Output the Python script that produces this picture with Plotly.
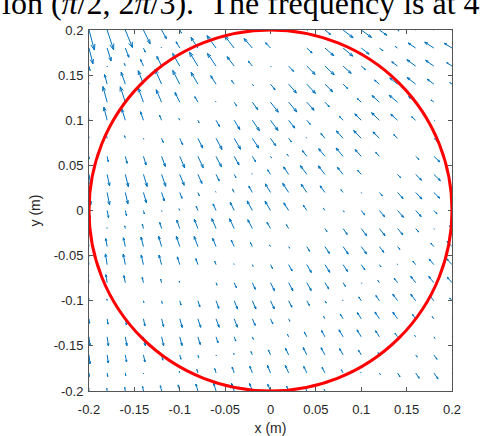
"""Quiver field inside a circle, MATLAB-style, rebuilt with Plotly."""

import math
import plotly.graph_objects as go

HEADER = "ion (<i>π</i>/2, 2<i>π</i>/3).  The frequency is at 4"

X_GRID = [-0.20, -0.18, -0.16, -0.14, -0.12, -0.10, -0.08, -0.06, -0.04, -0.02, 0.00,
          0.02, 0.04, 0.06, 0.08, 0.10, 0.12, 0.14, 0.16, 0.18, 0.20]
Y_GRID = [0.20, 0.18, 0.16, 0.14, 0.12, 0.10, 0.08, 0.06, 0.04, 0.02, 0.00,
          -0.02, -0.04, -0.06, -0.08, -0.10, -0.12, -0.14, -0.16, -0.18, -0.20]

# signed arrow amplitude per grid point (rows top -> bottom, cols left -> right);
# positive = pointing down-right, negative = pointing up-left
AMPLITUDE = [
    [23, 23, 21, 17, 11, 4, -4, -11, -16, -18, -15, -8, 1, 8, 14, 14, 10, 2, -6, -11, -12],
    [18, 15, 11, 5, -1, -8, -14, -17, -17, -14, -8, 0, 8, 13, 14, 11, 5, -3, -10, -12, -10],
    [5, 1, -3, -8, -12, -16, -18, -17, -13, -7, 1, 8, 13, 14, 12, 6, -1, -8, -12, -11, -7],
    [-9, -11, -14, -16, -18, -17, -15, -11, -5, 2, 8, 13, 14, 12, 7, 0, -7, -11, -12, -9, -3],
    [-17, -18, -18, -17, -15, -12, -7, -1, 5, 10, 14, 14, 12, 7, 0, -6, -11, -12, -10, -4, 2],
    [-16, -15, -13, -10, -6, -2, 3, 8, 12, 14, 14, 11, 6, 0, -6, -10, -12, -10, -6, 1, 6],
    [-8, -6, -3, 1, 5, 8, 12, 14, 14, 13, 10, 5, -1, -7, -11, -12, -10, -6, 0, 5, 9],
    [3, 6, 8, 10, 12, 14, 14, 13, 11, 7, 2, -3, -8, -11, -12, -10, -6, 0, 5, 9, 10],
    [12, 13, 14, 14, 14, 13, 11, 8, 4, -1, -6, -10, -12, -12, -10, -6, 0, 5, 9, 10, 9],
    [14, 14, 13, 12, 10, 7, 4, -1, -4, -8, -11, -12, -11, -9, -4, 1, 5, 9, 10, 9, 5],
    [9, 8, 6, 4, 1, -2, -5, -8, -10, -12, -12, -10, -7, -3, 2, 6, 9, 10, 9, 5, 1],
    [0, -1, -3, -5, -7, -10, -11, -12, -12, -11, -8, -5, 0, 4, 8, 10, 10, 9, 5, 1, -4],
    [-8, -9, -10, -11, -12, -12, -12, -10, -8, -5, -2, 2, 6, 9, 10, 10, 8, 4, 0, -5, -8],
    [-12, -12, -12, -11, -11, -9, -7, -4, -1, 2, 5, 8, 10, 10, 9, 7, 3, -1, -5, -8, -9],
    [-10, -9, -8, -6, -4, -2, 0, 3, 6, 8, 10, 10, 10, 8, 5, 1, -3, -6, -9, -9, -8],
    [-3, -2, 0, 2, 3, 5, 7, 9, 10, 10, 10, 8, 6, 3, -1, -5, -7, -9, -9, -7, -4],
    [5, 6, 7, 8, 9, 10, 10, 10, 10, 8, 6, 3, 0, -3, -6, -8, -9, -9, -6, -3, 1],
    [10, 10, 10, 10, 10, 10, 9, 7, 5, 3, 0, -3, -6, -8, -9, -9, -8, -5, -2, 2, 5],
    [10, 9, 8, 8, 6, 5, 3, 1, -2, -4, -6, -8, -9, -9, -8, -6, -3, 0, 3, 6, 8],
    [4, 4, 3, 1, 0, -2, -4, -5, -7, -8, -9, -9, -8, -7, -4, -1, 2, 5, 7, 8, 8],
    [-3, -3, -4, -5, -6, -7, -8, -9, -9, -9, -8, -6, -4, -2, 1, 4, 6, 8, 8, 7, 5],
]

# arrow direction, degrees below the horizontal
DIRECTION = [
    [75, 72, 68, 64, 61, 58, 55, 52, 50, 47, 45, 43, 41, 39, 38, 36, 35, 33, 32, 31, 30],
    [76, 73, 69, 66, 62, 60, 57, 54, 52, 49, 47, 45, 43, 41, 40, 38, 37, 35, 34, 33, 32],
    [77, 74, 70, 67, 64, 61, 59, 56, 53, 51, 49, 47, 45, 43, 42, 40, 38, 37, 36, 35, 33],
    [78, 75, 71, 69, 66, 63, 60, 58, 55, 53, 51, 49, 47, 45, 44, 42, 40, 39, 38, 37, 35],
    [79, 75, 72, 70, 67, 64, 61, 59, 57, 54, 52, 50, 48, 47, 45, 43, 42, 40, 39, 38, 37],
    [80, 76, 73, 71, 68, 65, 63, 61, 59, 56, 54, 52, 50, 49, 47, 45, 44, 42, 41, 40, 39],
    [80, 77, 74, 72, 69, 66, 64, 62, 60, 57, 55, 53, 52, 50, 48, 46, 45, 44, 42, 41, 40],
    [81, 78, 75, 73, 70, 67, 65, 63, 61, 59, 57, 55, 53, 51, 50, 48, 47, 45, 44, 43, 41],
    [81, 78, 76, 73, 71, 68, 66, 64, 62, 60, 58, 56, 54, 52, 51, 49, 48, 46, 45, 44, 42],
    [82, 79, 77, 74, 72, 69, 67, 65, 63, 61, 59, 57, 56, 54, 52, 51, 49, 48, 47, 45, 44],
    [82, 79, 77, 75, 72, 70, 68, 66, 64, 62, 60, 58, 57, 55, 53, 52, 50, 49, 48, 46, 45],
    [82, 80, 78, 76, 73, 71, 69, 67, 65, 63, 61, 59, 58, 56, 55, 53, 52, 50, 49, 48, 46],
    [82, 80, 78, 76, 74, 72, 70, 68, 66, 64, 62, 60, 59, 57, 56, 54, 53, 51, 50, 49, 47],
    [83, 81, 79, 77, 75, 73, 71, 69, 67, 65, 63, 61, 60, 58, 57, 55, 54, 52, 51, 50, 48],
    [83, 81, 79, 77, 75, 73, 71, 69, 67, 66, 64, 62, 61, 59, 58, 56, 55, 53, 52, 51, 49],
    [83, 81, 79, 78, 76, 74, 72, 70, 68, 67, 65, 63, 62, 60, 59, 57, 56, 54, 53, 52, 50],
    [83, 81, 79, 78, 76, 74, 72, 70, 69, 67, 65, 64, 62, 61, 59, 58, 57, 55, 54, 53, 51],
    [84, 82, 80, 78, 77, 75, 73, 71, 70, 68, 66, 65, 63, 62, 60, 59, 58, 56, 55, 54, 52],
    [84, 82, 80, 78, 77, 75, 73, 72, 70, 68, 67, 65, 64, 62, 61, 60, 58, 57, 56, 54, 53],
    [84, 82, 81, 79, 77, 76, 74, 73, 71, 69, 68, 66, 65, 63, 62, 61, 59, 58, 57, 55, 54],
    [84, 82, 81, 79, 77, 76, 74, 73, 71, 70, 68, 67, 65, 64, 62, 61, 60, 59, 57, 56, 55],
]

RADIUS = 0.2
TICKS = [-0.2, -0.15, -0.1, -0.05, 0, 0.05, 0.1, 0.15, 0.2]
TICK_LABELS = ["-0.2", "-0.15", "-0.1", "-0.05", "0", "0.05", "0.1", "0.15", "0.2"]

SCALE = 0.001       # data units per amplitude unit
HEAD = 0.3          # head length relative to arrow
HEAD_ANGLE = math.radians(20)
AXIS_GREY = "#555555"


def quiver_lines():
    xs, ys = [], []
    for j, y0 in enumerate(Y_GRID):
        for i, x0 in enumerate(X_GRID):
            a = AMPLITUDE[j][i]
            if a == 0:
                continue
            th = math.radians(DIRECTION[j][i])
            u = a * SCALE * math.cos(th)
            v = -a * SCALE * math.sin(th)
            x1, y1 = x0 + u, y0 + v
            bx, by = -u * HEAD, -v * HEAD
            barbs = []
            for s in (1, -1):
                c, sn = math.cos(s * HEAD_ANGLE), math.sin(s * HEAD_ANGLE)
                barbs.append((x1 + bx * c - by * sn, y1 + bx * sn + by * c))
            xs += [x0, x1, barbs[0][0], None, x1, barbs[1][0], None]
            ys += [y0, y1, barbs[0][1], None, y1, barbs[1][1], None]
    return xs, ys


xs, ys = quiver_lines()
fig = go.Figure()
fig.add_trace(go.Scatter(
    x=xs, y=ys, mode="lines", hoverinfo="skip",
    line=dict(color="#0072BD", width=1),
))
fig.add_shape(
    type="circle", xref="x", yref="y",
    x0=-RADIUS, x1=RADIUS, y0=-RADIUS, y1=RADIUS,
    line=dict(color="#FF0000", width=3),
)

axis_style = dict(
    range=[-0.2, 0.2], tickvals=TICKS, ticktext=TICK_LABELS,
    ticks="inside", ticklen=4, tickcolor=AXIS_GREY,
    showline=True, linecolor=AXIS_GREY, linewidth=1, mirror="ticks",
    showgrid=False, zeroline=False,
    tickfont=dict(size=13, color="#262626"),
)
fig.update_xaxes(**axis_style, ticklabelstandoff=6,
                 title=dict(text="x (m)", font=dict(size=14, color="#262626"), standoff=8))
fig.update_yaxes(**axis_style, ticklabelstandoff=2,
                 title=dict(text="y (m)", font=dict(size=14, color="#262626"), standoff=9))

fig.add_annotation(
    text=HEADER, xref="paper", yref="paper", x=-0.245, y=1.0,
    xanchor="left", yanchor="bottom", yshift=7, showarrow=False,
    font=dict(family="Liberation Serif, serif", size=32, color="#000000"),
)

fig.update_layout(
    width=490, height=436,
    margin=dict(l=89, r=38, t=30, b=45, autoexpand=False),
    paper_bgcolor="white", plot_bgcolor="white",
    showlegend=False,
    font=dict(family="Liberation Sans, Arial, sans-serif", size=13, color="#262626"),
)

fig.write_html("out.html", config={"displayModeBar": False},
               post_script="document.body.style.margin = '0';")
